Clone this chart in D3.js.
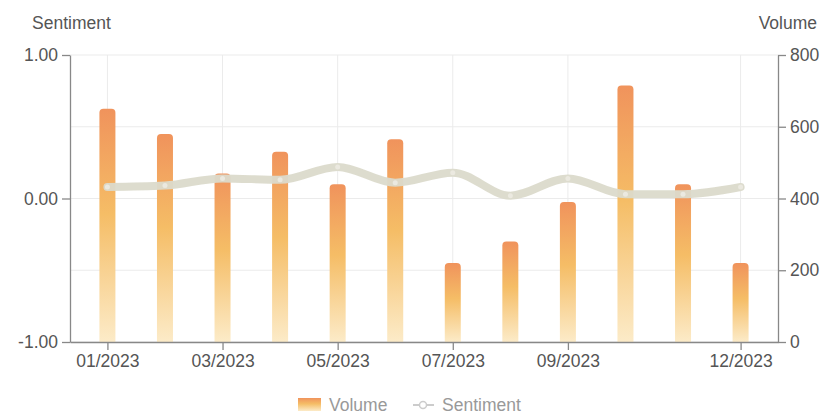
<!DOCTYPE html>
<html>
<head>
<meta charset="utf-8">
<script src="https://cdn.jsdelivr.net/npm/d3@7"></script>
<style>
  body { margin: 0; background: #fff; font-family: "Liberation Sans", Arial, sans-serif; }
  .axis text { fill: #555; font-size: 17.5px; font-family: "Liberation Sans", Arial, sans-serif; }
  .axis path, .axis line { stroke: #888; stroke-width: 1.3; }
</style>
</head>
<body>
<div id="plot"></div>
<script>
// Chart data
var months = ["01/2023", "02/2023", "03/2023", "04/2023", "05/2023", "06/2023",
              "07/2023", "08/2023", "09/2023", "10/2023", "11/2023", "12/2023"];
var volume = [650, 580, 470, 530, 440, 565, 220, 280, 390, 715, 440, 220];
var sentiment = [0.08, 0.09, 0.14, 0.13, 0.22, 0.11, 0.18, 0.02, 0.14, 0.03, 0.03, 0.08];
var tickMonths = ["01/2023", "03/2023", "05/2023", "07/2023", "09/2023", "12/2023"];
var sentTicks = [-1, 0, 1];
var volTicks = [0, 200, 400, 600, 800];

var margin = {top: 55, right: 53, bottom: 72, left: 70},
    width = 831 - margin.left - margin.right,
    height = 414 - margin.top - margin.bottom;

var root = d3.select("#plot").append("svg")
    .attr("width", 831)
    .attr("height", 414);

var defs = root.append("defs");
var grad = defs.append("linearGradient")
    .attr("id", "barGrad")
    .attr("x1", 0).attr("y1", 0).attr("x2", 0).attr("y2", 1);
grad.append("stop").attr("offset", "0%").attr("stop-color", "#f0935c");
grad.append("stop").attr("offset", "45%").attr("stop-color", "#f5bd66");
grad.append("stop").attr("offset", "100%").attr("stop-color", "#fcebc8");

var svg = root.append("g")
    .attr("transform", "translate(" + margin.left + "," + margin.top + ")");

var x = d3.scalePoint()
    .domain(months)
    .range([0, width])
    .padding(0.65);

var ySent = d3.scaleLinear().domain([-1, 1]).range([height, 0]);
var yVol = d3.scaleLinear().domain([0, 800]).range([height, 0]);

// Grid lines
svg.append("g")
  .selectAll("line")
  .data(volTicks)
  .enter().append("line")
    .attr("x1", 0).attr("x2", width)
    .attr("y1", function(d) { return yVol(d); })
    .attr("y2", function(d) { return yVol(d); })
    .attr("stroke", "#ebebeb");

svg.append("g")
  .selectAll("line")
  .data(tickMonths)
  .enter().append("line")
    .attr("x1", function(d) { return x(d); })
    .attr("x2", function(d) { return x(d); })
    .attr("y1", 0).attr("y2", height)
    .attr("stroke", "#ebebeb");

// Bars
var barW = 16;
svg.append("g")
  .selectAll("path")
  .data(volume)
  .enter().append("path")
    .attr("fill", "url(#barGrad)")
    .attr("d", function(d, i) {
      var x0 = x(months[i]) - barW / 2, y0 = yVol(d), r = 4;
      return "M" + x0 + "," + height +
             "V" + (y0 + r) +
             "Q" + x0 + "," + y0 + " " + (x0 + r) + "," + y0 +
             "H" + (x0 + barW - r) +
             "Q" + (x0 + barW) + "," + y0 + " " + (x0 + barW) + "," + (y0 + r) +
             "V" + height + "Z";
    });

// Sentiment line
var line = d3.line()
    .x(function(d, i) { return x(months[i]); })
    .y(function(d) { return ySent(d); })
    .curve(d3.curveMonotoneX);

svg.append("path")
    .datum(sentiment)
    .attr("fill", "none")
    .attr("stroke", "#dbdacb")
    .attr("stroke-width", 8)
    .attr("stroke-linecap", "round")
    .attr("opacity", 0.95)
    .attr("d", line);

svg.append("g")
  .selectAll("circle")
  .data(sentiment)
  .enter().append("circle")
    .attr("cx", function(d, i) { return x(months[i]); })
    .attr("cy", function(d) { return ySent(d); })
    .attr("r", 2.5)
    .attr("fill", "#ebe9e0");

// Axes
svg.append("g")
    .attr("class", "axis")
    .attr("transform", "translate(0," + height + ")")
    .call(d3.axisBottom(x).tickValues(tickMonths).tickSize(8).tickPadding(5).tickSizeOuter(0));

svg.append("g")
    .attr("class", "axis")
    .call(d3.axisLeft(ySent).tickValues(sentTicks)
      .tickFormat(function(d) { return d.toFixed(2); })
      .tickSize(8).tickPadding(4).tickSizeOuter(0));

svg.append("g")
    .attr("class", "axis")
    .attr("transform", "translate(" + width + ",0)")
    .call(d3.axisRight(yVol).tickValues(volTicks).tickSize(8).tickPadding(4).tickSizeOuter(0));

// Axis titles
root.append("text")
    .attr("x", 32).attr("y", 29)
    .attr("fill", "#555").style("font-size", "17.5px")
    .text("Sentiment");

root.append("text")
    .attr("x", 817).attr("y", 29)
    .attr("text-anchor", "end")
    .attr("fill", "#555").style("font-size", "17.5px")
    .text("Volume");

// Legend
var legend = root.append("g").attr("transform", "translate(298,405)");
legend.append("rect")
    .attr("x", 0).attr("y", -7).attr("width", 23).attr("height", 13)
    .attr("fill", "url(#barGrad)");
legend.append("text")
    .attr("x", 31).attr("y", 6)
    .attr("fill", "#999").style("font-size", "17.5px")
    .text("Volume");
legend.append("line")
    .attr("x1", 115).attr("x2", 136).attr("y1", 0).attr("y2", 0)
    .attr("stroke", "#ccc").attr("stroke-width", 2);
legend.append("circle")
    .attr("cx", 125).attr("cy", 0).attr("r", 3.5)
    .attr("fill", "#fff").attr("stroke", "#ccc").attr("stroke-width", 1.5);
legend.append("text")
    .attr("x", 144).attr("y", 6)
    .attr("fill", "#999").style("font-size", "17.5px")
    .text("Sentiment");
</script>
</body>
</html>
